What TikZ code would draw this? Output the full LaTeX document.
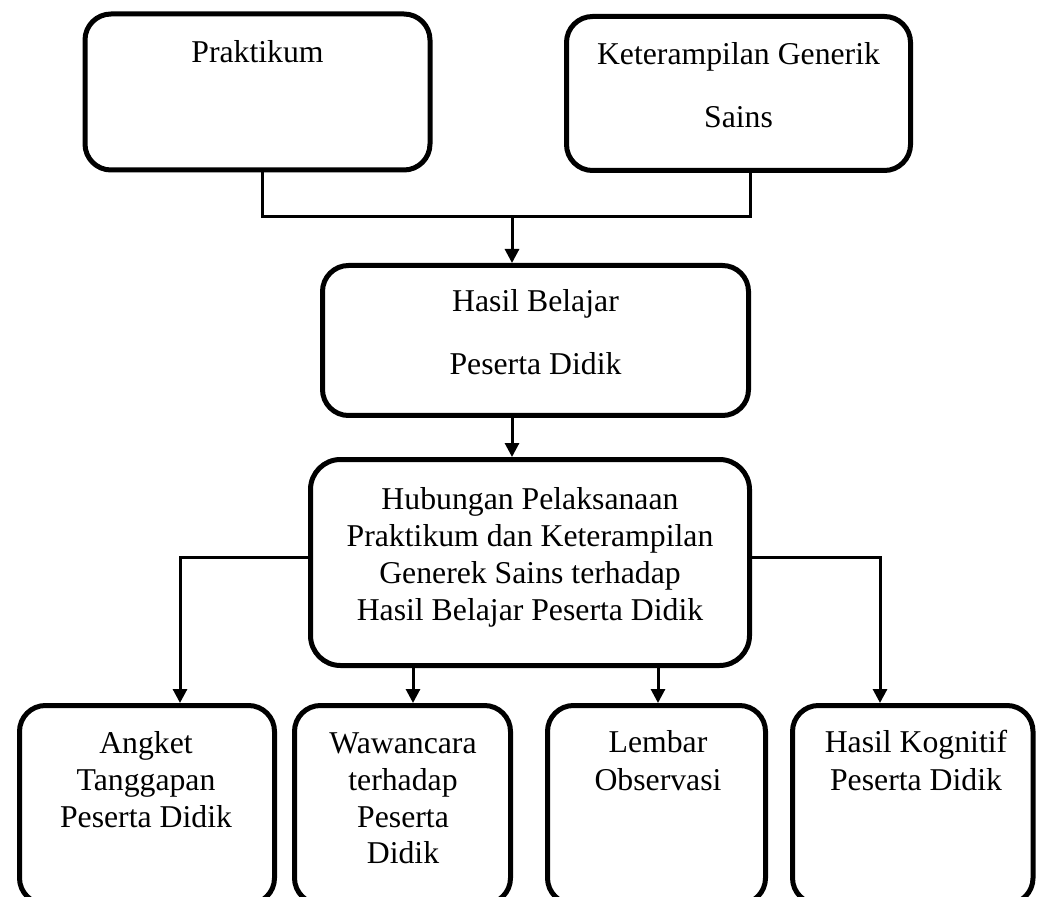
\documentclass[tikz,border=0pt]{standalone}
\usepackage{fontspec}
\setmainfont{Liberation Serif}
\usetikzlibrary{arrows.meta}
\newcommand{\fsz}{\fontsize{15.87pt}{18.4pt}\selectfont}
\tikzset{
  boxnode/.style={draw, rectangle, line width=2.5pt, rounded corners=13pt, inner sep=0pt},
  conn/.style={line width=1.5pt},
  arr/.style={conn, -{Triangle[length=7pt,width=7pt]}},
  txt/.style={anchor=base, inner sep=0pt, font=\fsz}
}
\begin{document}
\begin{tikzpicture}[x=0.5pt, y=-0.5pt]
\useasboundingbox (0,0) rectangle (1037,897);
\clip (0,0) rectangle (1037,897);
\fill[white] (0,0) rectangle (1037,897);
% boxes
\node[boxnode, minimum width=172.5pt, minimum height=78pt] (prak) at (257.5,92) {};
\node[boxnode, minimum width=172pt, minimum height=77pt] (ket) at (738.5,93.5) {};
\node[boxnode, minimum width=213pt, minimum height=75pt] (hasil) at (535.5,340.5) {};
\node[boxnode, rounded corners=15pt, minimum width=219.5pt, minimum height=103pt] (hub) at (530,562.5) {};
\node[boxnode, minimum width=127.5pt, minimum height=99.25pt] (b1) at (147,804.75) {};
\node[boxnode, minimum width=108pt, minimum height=99.25pt] (b2) at (402.5,804.75) {};
\node[boxnode, minimum width=109pt, minimum height=99.25pt] (b3) at (656.5,804.75) {};
\node[boxnode, minimum width=120.25pt, minimum height=99.25pt] (b4) at (912.75,804.75) {};
% texts
\node[txt] (t1) at (257.5,63) {Praktikum};
\node[txt] (t2a) at (738.5,65) {Keterampilan Generik};
\node[txt] (t2b) at (738.5,128) {Sains};
\node[txt] (t3a) at (535.5,312) {Hasil Belajar};
\node[txt] (t3b) at (535.5,375) {Peserta Didik};
\node[txt] (t4a) at (530,509.5) {Hubungan Pelaksanaan};
\node[txt] (t4b) at (530,546.5) {Praktikum dan Keterampilan};
\node[txt] (t4c) at (530,583) {Generek Sains terhadap};
\node[txt] (t4d) at (530,620) {Hasil Belajar Peserta Didik};
\node[txt] (t5a) at (146,753) {Angket};
\node[txt] (t5b) at (146,790) {Tanggapan};
\node[txt] (t5c) at (146,827) {Peserta Didik};
\node[txt] (t6a) at (403,753) {Wawancara};
\node[txt] (t6b) at (403,790) {terhadap};
\node[txt] (t6c) at (403,827) {Peserta};
\node[txt] (t6d) at (403,863) {Didik};
\node[txt] (t7a) at (658,752) {Lembar};
\node[txt] (t7b) at (658,790) {Observasi};
\node[txt] (t8a) at (916,752) {Hasil Kognitif};
\node[txt] (t8b) at (916,790) {Peserta Didik};
% connectors
\coordinate (jl) at (262,217);
\coordinate (jr) at (750,217);
\coordinate (jm) at (512,217);
\draw[conn] (jl |- prak.south) -- (jl) -- (jr) -- (jr |- ket.south);
\draw[arr] (jm) -- (jm |- hasil.north);
\draw[arr] (jm |- hasil.south) -- (jm |- hub.north);
\coordinate (bl) at (180,557);
\coordinate (br) at (880,557);
\coordinate (m2) at (413,0);
\coordinate (m3) at (658,0);
\draw[arr] (bl -| hub.west) -- (bl) -- (bl |- b1.north);
\draw[arr] (br -| hub.east) -- (br) -- (br |- b4.north);
\draw[arr] (m2 |- hub.south) -- (m2 |- b2.north);
\draw[arr] (m3 |- hub.south) -- (m3 |- b3.north);
\end{tikzpicture}
\end{document}
